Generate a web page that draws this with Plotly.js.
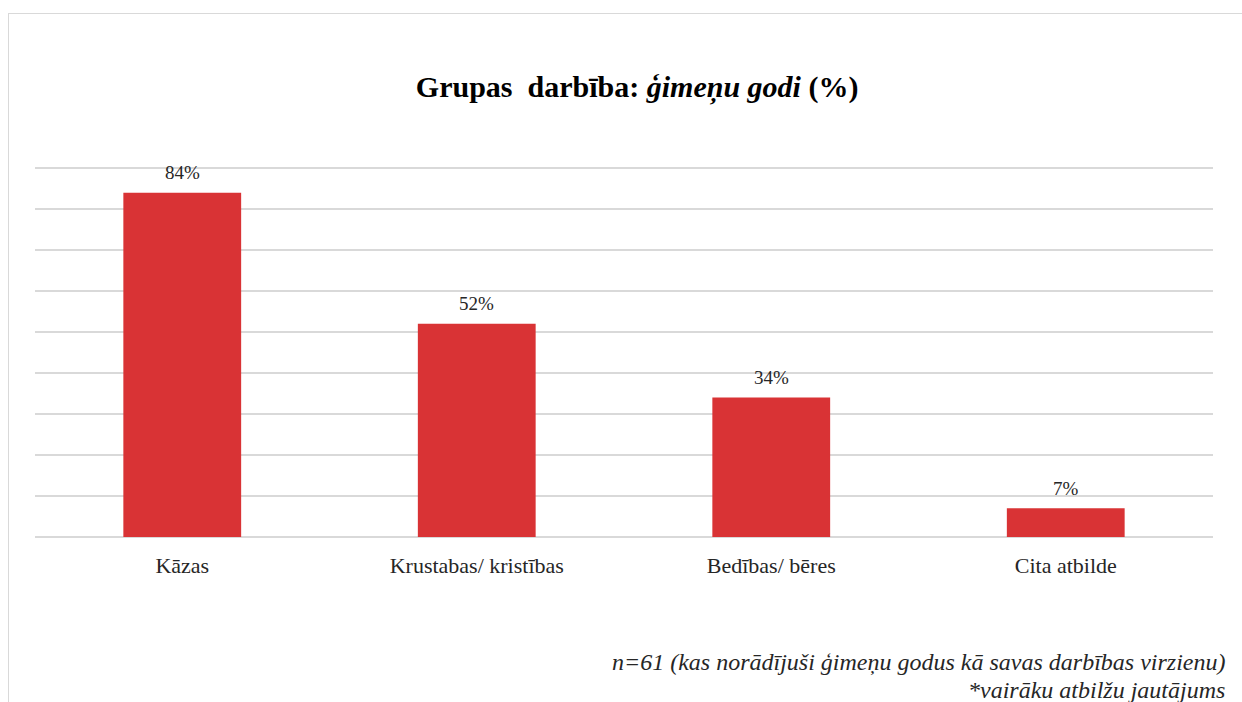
<!DOCTYPE html>
<html>
<head>
<meta charset="utf-8">
<script src="https://cdn.plot.ly/plotly-3.0.1.min.js"></script>
<style>
html,body{margin:0;padding:0;background:#fff;}
#wrap{position:relative;width:1242px;height:702px;}
#chart{width:1242px;height:702px;}
#frame{position:absolute;left:8px;top:13px;width:1240px;height:700px;border-left:1.5px solid #d9d9d9;border-top:1.5px solid #d9d9d9;pointer-events:none;}
</style>
</head>
<body>
<div id="wrap"><div id="chart"></div><div id="frame"></div></div>
<script>
const categories = ["Kāzas", "Krustabas/ kristības", "Bedības/ bēres", "Cita atbilde"];
const values = [84, 52, 34, 7];
const valueLabels = ["84%", "52%", "34%", "7%"];
const titleText = "<b>Grupas  darbība: <i>ģimeņu godi</i> (%)</b>";
const noteLine1 = "<i>n=61 (kas norādījuši ģimeņu godus kā savas darbības virzienu)</i>";
const noteLine2 = "<i>*vairāku atbilžu jautājums</i>";

const SERIF = "Liberation Serif";

const trace = {
  type: "bar",
  x: categories,
  y: values,
  marker: {color: "#d93335"},
  hoverinfo: "none"
};

const labelAnns = categories.map((c, i) => ({
  x: c, y: values[i], xref: "x", yref: "y", text: valueLabels[i],
  showarrow: false, yanchor: "middle", yshift: 20,
  font: {family: SERIF, size: 19, color: "#262626"}
}));

const layout = {
  width: 1242, height: 702,
  margin: {l: 35, r: 29, t: 166, b: 165},
  paper_bgcolor: "#fff", plot_bgcolor: "#fff",
  showlegend: false,
  bargap: 0.6,
  font: {family: SERIF, color: "#262626"},
  title: {text: titleText, x: 0.513, xanchor: "center", y: 0.877, yanchor: "middle",
          font: {family: SERIF, size: 30, color: "#000"}},
  xaxis: {type: "category", showgrid: false, showline: false, ticks: "",
          ticklabelstandoff: 13,
          tickfont: {family: SERIF, size: 22, color: "#262626"}},
  yaxis: {range: [0, 90.5], dtick: 10, showticklabels: false, showgrid: true,
          gridcolor: "#d9d9d9", gridwidth: 1.3, zeroline: true, zerolinecolor: "#d9d9d9",
          zerolinewidth: 1.5, showline: false, ticks: "", fixedrange: true},
  annotations: labelAnns.concat([
    {text: noteLine1, xref: "paper", yref: "paper", x: 1.0125, y: -0.337, xanchor: "right", yanchor: "middle",
     showarrow: false, font: {family: SERIF, size: 24, color: "#262626"}},
    {text: noteLine2, xref: "paper", yref: "paper", x: 1.0117, y: -0.413, xanchor: "right", yanchor: "middle",
     showarrow: false, font: {family: SERIF, size: 24, color: "#262626"}}
  ])
};

Plotly.newPlot("chart", [trace], layout, {displayModeBar: false, staticPlot: true});
</script>
</body>
</html>
